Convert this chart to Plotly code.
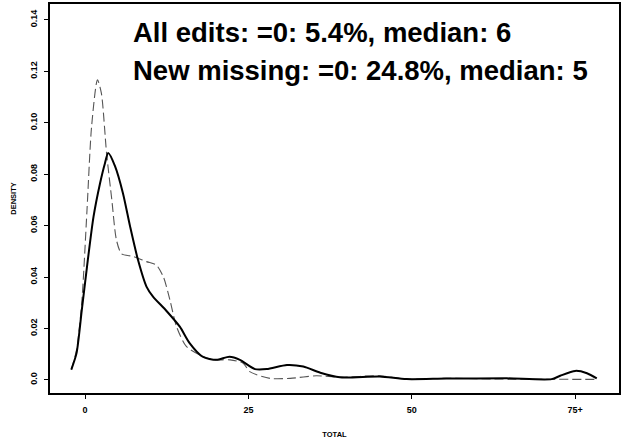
import plotly.graph_objects as go

# All edits (solid) density curve
all_edits_x = [-2.1, -1.3, -0.5, 0.3, 1.3, 2.3, 3.05, 3.55, 4.6, 5.8, 6.9, 8.1, 9.4, 10.4,
               12.4, 14.5, 16.0, 18.0, 20.1, 22.1, 23.7, 26.0, 27.8, 30.9, 33.4, 36.0, 39.0,
               45.1, 49.2, 55.3, 64.5, 71.4, 72.7, 75.0, 76.8, 78.3]
all_edits_y = [0.004, 0.0104, 0.027, 0.044, 0.0635, 0.0765, 0.0843, 0.0882, 0.083, 0.0726,
               0.0596, 0.0467, 0.0363, 0.0324, 0.027, 0.0207, 0.0143, 0.009, 0.0078, 0.009,
               0.0078, 0.0042, 0.0042, 0.0058, 0.0052, 0.0028, 0.0010, 0.0013, 0.0003, 0.0005,
               0.0006, 0.0003, 0.0016, 0.0035, 0.0026, 0.0006]

# New missing (dashed) density curve
new_missing_x = [-2.1, -1.3, -0.5, 0.3, 1.0, 1.9, 2.5, 3.3, 4.1, 4.8, 5.6, 7.4, 9.4, 10.9,
                 12.0, 13.0, 14.0, 15.5, 17.6, 19.6, 22.2, 24.2, 25.2, 28.3, 31.4, 35.4,
                 39.0, 45.1, 49.2, 55.3, 65.0, 78.3]
new_missing_y = [0.004, 0.0117, 0.030, 0.066, 0.0985, 0.1167, 0.1115, 0.088, 0.070, 0.0545,
                 0.049, 0.048, 0.046, 0.0447, 0.040, 0.031, 0.0207, 0.013, 0.0097, 0.0078,
                 0.0078, 0.0065, 0.0032, 0.0006, 0.0006, 0.0016, 0.001, 0.0016, 0.0003,
                 0.0006, 0.0003, 0.0002]

x_tick_vals = [0, 25, 50, 75]
x_tick_text = ["0", "25", "50", "75+"]
y_tick_vals = [0.0, 0.02, 0.04, 0.06, 0.08, 0.10, 0.12, 0.14]
y_tick_text = ["0.0", "0.02", "0.04", "0.06", "0.08", "0.10", "0.12", "0.14"]

text_lines = ["All edits: =0: 5.4%, median: 6",
              "New missing: =0: 24.8%, median: 5"]

W, H = 625, 439
ml, mr, mt, mb = 50, 6, 4, 46

fig = go.Figure()
fig.add_trace(go.Scatter(x=new_missing_x, y=new_missing_y, mode="lines",
                         line=dict(color="#555555", width=1.1, dash="9px,4px",
                                   shape="spline", smoothing=0.7),
                         showlegend=False, hoverinfo="skip"))
fig.add_trace(go.Scatter(x=all_edits_x, y=all_edits_y, mode="lines",
                         line=dict(color="black", width=2, shape="spline", smoothing=0.7),
                         showlegend=False, hoverinfo="skip"))

tickfont = dict(family="Liberation Sans, Arial", size=9, color="black", weight="bold")
titlefont = dict(family="Liberation Sans, Arial", size=7.5, color="black", weight="bold")

fig.update_xaxes(range=[-5.36, 81.7], tickvals=x_tick_vals, ticktext=x_tick_text,
                 ticks="outside", ticklen=4, tickwidth=1, tickcolor="black",
                 showline=True, linecolor="black", linewidth=1.5, mirror=True,
                 showgrid=False, zeroline=False, tickfont=tickfont, automargin=False,
                 ticklabelstandoff=3,
                 title=dict(text="TOTAL", font=titlefont, standoff=18))
fig.update_yaxes(range=[-0.0051, 0.1462], tickvals=y_tick_vals, ticktext=y_tick_text,
                 ticks="outside", ticklen=4, tickwidth=1, tickcolor="black",
                 showline=True, linecolor="black", linewidth=1.5, mirror=True,
                 showgrid=False, zeroline=False, tickfont=tickfont, tickangle=-90,
                 automargin=False, ticklabelstandoff=4,
                 title=dict(text="DENSITY", font=titlefont, standoff=11))

ph = H - mt - mb
for i, (line, py) in enumerate(zip(text_lines, [32, 70])):
    fig.add_annotation(text=line, xref="paper", yref="paper",
                       x=(131 - ml) / (W - ml - mr), y=1 - (py - mt) / ph,
                       xanchor="left", yanchor="middle", showarrow=False,
                       font=dict(family="Liberation Sans, Arial", size=27.5,
                                 color="black", weight="bold"))

fig.update_layout(width=W, height=H, margin=dict(l=ml, r=mr, t=mt, b=mb),
                  plot_bgcolor="white", paper_bgcolor="white")

fig.write_html("out.html", config={"displayModeBar": False},
               post_script="document.body.style.margin='0px';document.body.style.overflow='hidden';")
